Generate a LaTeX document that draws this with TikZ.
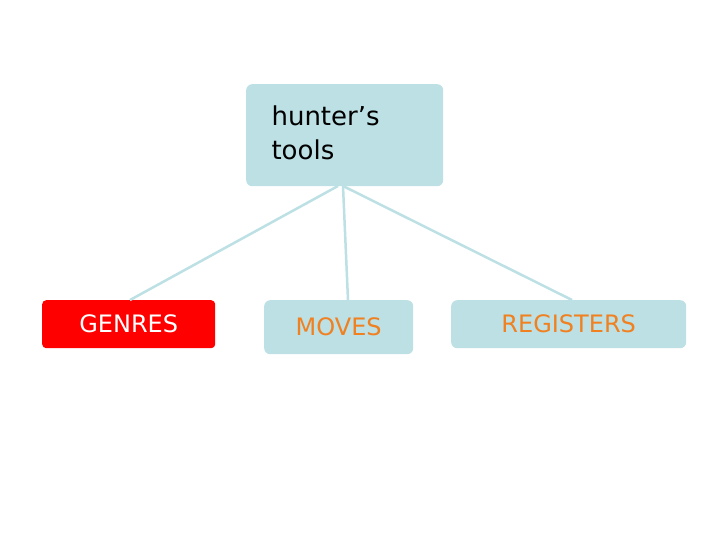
\documentclass[tikz,border=0pt]{standalone}
\usepackage{fontspec}
\setmainfont{DejaVu Sans}
\begin{document}
\begin{tikzpicture}[x=1pt,y=-1pt]
\definecolor{lb}{HTML}{BCE0E4}
\definecolor{org}{HTML}{F08020}
\tikzset{box/.style={fill=lb,rounded corners=6pt,inner sep=0pt},
 ln/.style={draw=lb,line width=2.5pt}}
\useasboundingbox (0,0) rectangle (720,540);
\node[box,minimum width=197,minimum height=102,anchor=north west] (top) at (246,84) {};
\node[anchor=west,align=left,font=\fontsize{26}{34}\selectfont] at (268,133) {hunter’s\\tools};
\node[fill=red,rounded corners=4pt,minimum width=173,minimum height=48,anchor=north west,text=white,font=\fontsize{24}{28}\selectfont] (g) at (42,300) {GENRES};
\node[box,minimum width=149,minimum height=54,anchor=north west,text=org,font=\fontsize{24}{28}\selectfont] (m) at (264,300) {MOVES};
\node[box,minimum width=235,minimum height=48,anchor=north west,text=org,font=\fontsize{24}{28}\selectfont] (r) at (451,300) {REGISTERS};
\coordinate (t1) at (338,186);
\coordinate (t2) at (343,186);
\draw[ln] (t1) -- (130,300);
\draw[ln] (t2) -- (348,300);
\draw[ln] (t2) -- (572,300);
\end{tikzpicture}
\end{document}
